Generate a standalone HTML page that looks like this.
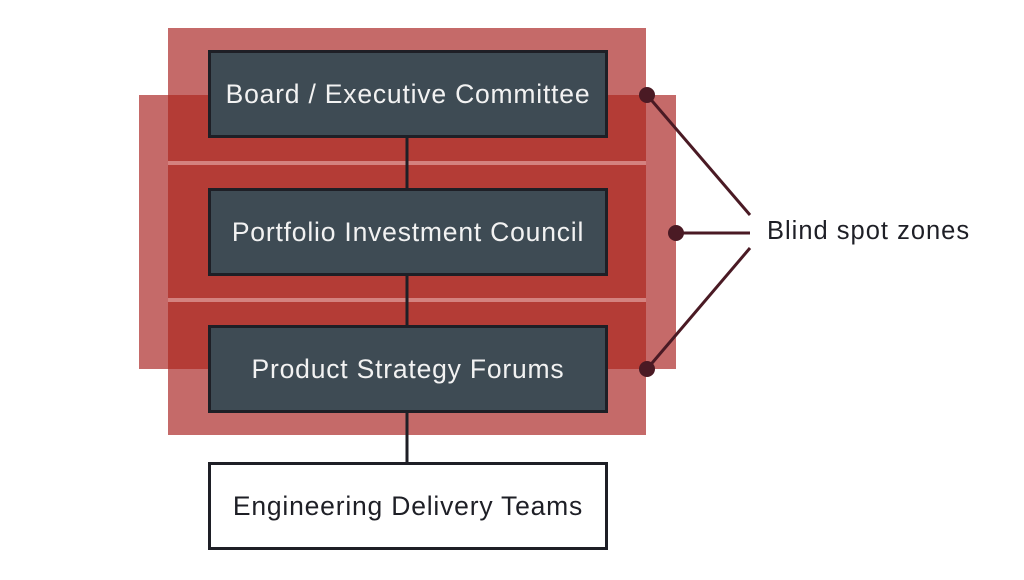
<!DOCTYPE html>
<html><head><style>
body{margin:0;width:1024px;height:580px;background:#fff;overflow:hidden;position:relative;font-family:"Liberation Sans",sans-serif}
.r{position:absolute}
.box{position:absolute;left:208px;width:394px;height:82px;background:#3e4b54;border:3px solid #1e1f26;color:#f2f2f2;font-size:26.5px;letter-spacing:0.8px;display:flex;align-items:center;justify-content:center}
</style></head><body>
<div class="r" style="left:168px;top:28px;width:478px;height:407px;background:#c56a69"></div>
<div class="r" style="left:139px;top:95px;width:537px;height:274px;background:#c56a69"></div>
<div class="r" style="left:168px;top:95px;width:478px;height:274px;background:#b43c36"></div>
<div class="r" style="left:168px;top:161px;width:478px;height:4px;background:#d4827f"></div>
<div class="r" style="left:168px;top:298px;width:478px;height:4px;background:#d4827f"></div>
<svg class="r" style="left:0;top:0" width="1024" height="580">
<g stroke="#1e1f26" stroke-width="3">
<line x1="407" y1="137" x2="407" y2="190"/>
<line x1="407" y1="274" x2="407" y2="327"/>
<line x1="407" y1="412" x2="407" y2="464"/>
</g>
<g stroke="#4a1a24" stroke-width="3">
<line x1="647" y1="95" x2="750" y2="215"/>
<line x1="676" y1="233" x2="750" y2="233"/>
<line x1="647" y1="369" x2="750" y2="248"/>
</g>
<g fill="#4a1a24">
<circle cx="647" cy="95" r="8"/><circle cx="676" cy="233" r="8"/><circle cx="647" cy="369" r="8"/>
</g>
</svg>
<div class="box" style="top:50px">Board / Executive Committee</div>
<div class="box" style="top:188px">Portfolio Investment Council</div>
<div class="box" style="top:325px">Product Strategy Forums</div>
<div class="box" style="top:462px;background:#fff;color:#1e1f26">Engineering Delivery Teams</div>
<div class="r" style="left:767px;top:217px;font-size:25.5px;letter-spacing:1px;color:#1e1f26">Blind spot zones</div>
</body></html>
